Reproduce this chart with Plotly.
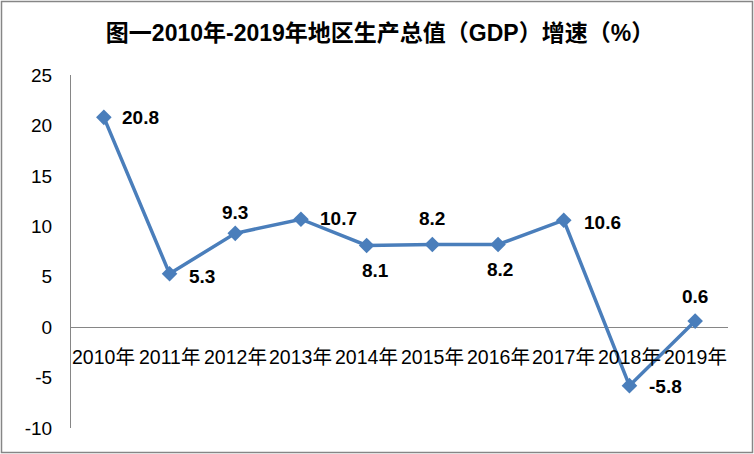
import plotly.graph_objects as go

years = ["2010年", "2011年", "2012年", "2013年", "2014年", "2015年", "2016年", "2017年", "2018年", "2019年"]
growth = [20.8, 5.3, 9.3, 10.7, 8.1, 8.2, 8.2, 10.6, -5.8, 0.6]
y_ticks = [-10, -5, 0, 5, 10, 15, 20, 25]
y_tick_text = ["-10", "-5", "0", "5", "10", "15", "20", "25"]

# label offsets in pixels (style only)
label_dx = [37, 32, 0, 38, 9, 0, 2, 39, 36, 0]
label_dy = [0, -3, 21, 1, -25, 26, -25, -2, -1, 25]

FONT = "Liberation Sans, Noto Sans CJK SC, sans-serif"
BLUE = "#4A7EBB"

fig = go.Figure()
fig.add_trace(go.Scatter(
    x=years, y=growth, mode="lines+markers",
    line=dict(color=BLUE, width=3.5),
    marker=dict(symbol="diamond", size=12, color=BLUE),
    cliponaxis=False, showlegend=False,
))

for yr, v, dx, dy in zip(years, growth, label_dx, label_dy):
    fig.add_annotation(x=yr, y=v, xref="x", yref="y", text=f"<b>{v:g}</b>", showarrow=False,
                       xanchor="center", yanchor="middle", xshift=dx, yshift=dy,
                       font=dict(family=FONT, size=19, color="black"))

for yr in years:
    fig.add_annotation(x=yr, y=0, xref="x", yref="y", text=yr, showarrow=False,
                       yanchor="middle", yshift=-30,
                       font=dict(family=FONT, size=19.5, color="black"))

W, H = 754, 454
ml, mr, mt, mb = 71, 26, 75, 26
pw, ph = W - ml - mr, H - mt - mb
fig.add_shape(type="rect", xref="paper", yref="paper",
              x0=(1.5 - ml) / pw, x1=(W - 1.5 - ml) / pw,
              y0=(mt + ph - (H - 1.5)) / ph, y1=(mt + ph - 1.5) / ph,
              line=dict(color="#868686", width=1.5), fillcolor="rgba(0,0,0,0)", layer="below")

fig.update_layout(
    width=W, height=H,
    margin=dict(l=ml, r=mr, t=mt, b=mb),
    paper_bgcolor="white", plot_bgcolor="white",
    title=dict(text="<b>图一2010年-2019年地区生产总值（GDP）增速（%）</b>",
               x=380 / W, xref="container", xanchor="center", y=1 - 33 / H, yanchor="middle",
               font=dict(family=FONT, size=23, color="black")),
    font=dict(family=FONT, size=19, color="black"),
)
fig.update_xaxes(type="category", showticklabels=False, showline=False, showgrid=False,
                 zeroline=False, range=[-0.5, 9.5])
fig.update_yaxes(range=[-10, 25], tickvals=y_ticks, ticktext=y_tick_text, showgrid=False,
                 showline=True, linecolor="#868686", linewidth=1, zeroline=True,
                 zerolinecolor="#868686", zerolinewidth=1, ticks="", ticklabelstandoff=14,
                 tickfont=dict(family=FONT, size=19, color="black"))

fig.write_html("out.html", config={"displayModeBar": False},
               post_script="document.body.style.margin='0px';")
